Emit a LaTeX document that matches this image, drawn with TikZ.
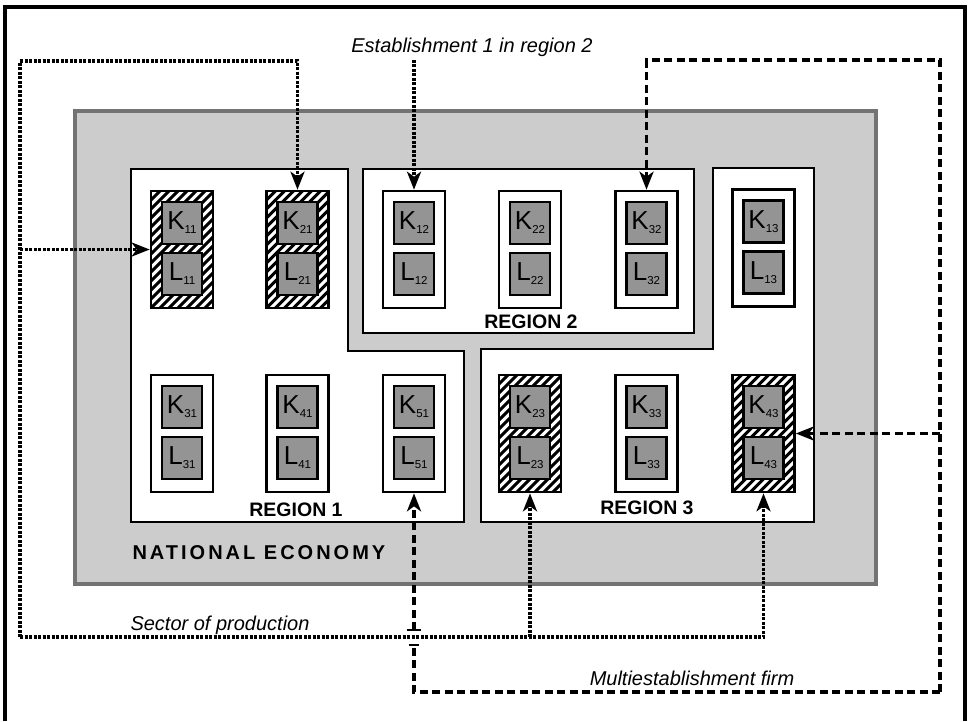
\documentclass[tikz,border=0pt]{standalone}
\usepackage{fontspec}
\setmainfont{Liberation Sans}
\usetikzlibrary{arrows.meta}
\newcommand{\KLtext}[2]{{\fontsize{26}{26}\selectfont #1}\raisebox{-4pt}{\fontsize{11.5}{11.5}\selectfont #2}}
\begin{document}
\begin{tikzpicture}[x=1pt,y=-1pt,
  estab/.style={draw, line width=2.6pt, fill=white, minimum width=62pt, minimum height=117pt, inner sep=0pt},
  hatched/.style={path picture={\foreach \i in {-126,-117,...,72}{\draw[line width=3pt] ([xshift=\i pt]path picture bounding box.south west) -- ++(140pt,140pt);}}},
  plain/.style={},
  kl/.style={draw, line width=2.2pt, fill=black!42, minimum width=40pt, minimum height=42pt, inner sep=0pt},
  region/.style={draw, line width=2pt, fill=white},
  sector/.style={line width=3.6pt, dash pattern=on 3pt off 1.5pt},
  firm/.style={line width=3.6pt, dash pattern=on 8pt off 4.5pt},
  tip/.style={-{Stealth[length=18pt,width=14pt,inset=5pt]}},
  reglabel/.style={font=\fontsize{19.5}{19.5}\selectfont\bfseries},
  itlabel/.style={font=\fontsize{20}{20}\selectfont\itshape}
]
\useasboundingbox (0,0) rectangle (969,721);
% outer frame
\draw[line width=4pt] (5,721) -- (5,7) -- (965,7) -- (965,721);
% national economy
\draw[fill=black!20, draw=black!55, line width=4pt] (75,111) rectangle (876,584);
% regions
\draw[region] (131,169) -- (348,169) -- (348,351) -- (464,351) -- (464,522) -- (131,522) -- cycle;
\draw[region] (363,169) rectangle (694,333);
\draw[region] (713,168) -- (814,168) -- (814,522) -- (481,522) -- (481,349) -- (713,349) -- cycle;
% establishments
\foreach \n/\x/\yc/\s/\h in {
  e11/182/249.5/11/hatched, e21/297.5/249.5/21/hatched, e12/414/249.5/12/plain,
  e22/530/249.5/22/plain, e32/646.5/249.5/32/plain, e13/763.5/248/13/plain,
  e31/182/433.5/31/plain, e41/297.5/433.5/41/plain, e51/414/433.5/51/plain,
  e23/530/433.5/23/hatched, e33/646.5/433.5/33/plain, e43/763.5/433.5/43/hatched}{
  \node[estab,\h] (\n) at (\x,\yc) {};
  \node[kl] (\n k) at (\x,\yc-26.5) {\KLtext{K}{\s}};
  \node[kl] (\n l) at (\x,\yc+24.5) {\KLtext{L}{\s}};
}
% labels
\node[reglabel] (r1) at (296,510) {REGION 1};
\node[reglabel] (r2) at (531,322) {REGION 2};
\node[reglabel] (r3) at (647,508) {REGION 3};
\node[reglabel, anchor=west, font=\fontsize{20}{20}\selectfont\bfseries\addfontfeature{LetterSpace=15}] (ne) at (129,553) {NATIONAL ECONOMY};
\node[itlabel] (lab1) at (472,47) {Establishment 1 in region 2};
\node[itlabel] (lab2) at (220,625) {Sector of production};
\node[itlabel] (lab3) at (692,678) {Multiestablishment firm};
% sector of production (dotted)
\coordinate (sTL) at (20,61);
\coordinate (sBL) at (20,637);
\draw[sector,tip] (sBL) -- (sTL) -| (e21.north);
\draw[sector,tip] (sBL) -| (e43.south);
\draw[sector,tip] (sTL |- e11.west) -- (e11.west);
\draw[sector,tip] (sBL -| e23.south) -- (e23.south);
\draw[sector,tip] (lab1.south -| e12.north) -- (e12.north);
% multiestablishment firm (dashed)
\coordinate (fTR) at (940,60);
\coordinate (fBR) at (940,692);
\coordinate (fGapLo) at (414,645);
\coordinate (fGapHi) at (414,630);
\draw[firm,tip] (fBR) -- (fTR) -| (e32.north);
\draw[firm] (fBR) -| (fGapLo);
\draw[firm,tip] (fGapHi) -- (e51.south);
\draw[firm,tip] (fTR |- e43.east) -- (e43.east);
\draw[line width=2.6pt] ([xshift=-7pt]fGapHi) -- ([xshift=7pt]fGapHi);
\draw[line width=1.8pt] ([xshift=-5pt]fGapLo) -- ([xshift=5pt]fGapLo);
\end{tikzpicture}
\end{document}
